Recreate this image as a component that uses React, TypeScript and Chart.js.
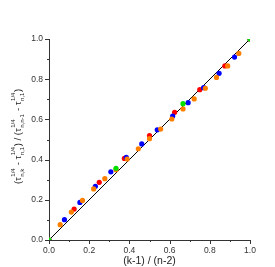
import React, { useEffect, useRef } from "react";
import { Chart, registerables } from "chart.js";

Chart.register(...registerables);

// n = 5
const greenX = [0, 0.3333, 0.6667, 1];
const greenY = [0, 0.357, 0.678, 1];
// n = 10
const redX = [0, 0.125, 0.25, 0.375, 0.5, 0.625, 0.75, 0.875, 1];
const redY = [0, 0.154, 0.287, 0.406, 0.52, 0.635, 0.748, 0.866, 1];
// n = 15
const blueX = [0, 0.0769, 0.1538, 0.2308, 0.3077, 0.3846, 0.4615, 0.5385, 0.6154, 0.6923, 0.7692, 0.8462, 0.9231, 1];
const blueY = [0, 0.101, 0.187, 0.267, 0.339, 0.411, 0.478, 0.548, 0.617, 0.683, 0.758, 0.829, 0.91, 1];
// n = 20
const orangeX = [0, 0.0556, 0.1111, 0.1667, 0.2222, 0.2778, 0.3333, 0.3889, 0.4444, 0.5, 0.5556, 0.6111, 0.6667, 0.7222, 0.7778, 0.8333, 0.8889, 0.9444, 1];
const orangeY = [0, 0.076, 0.139, 0.197, 0.254, 0.305, 0.35, 0.403, 0.454, 0.504, 0.552, 0.602, 0.652, 0.702, 0.755, 0.809, 0.866, 0.928, 1];
// reference diagonal
const lineX = [0, 1];
const lineY = [0, 1];

const xTitle = "(k-1) / (n-2)";
const tickValues = [0, 0.1, 0.2, 0.3, 0.4, 0.5, 0.6, 0.7, 0.8, 0.9, 1.0];

const toPts = (xs: number[], ys: number[]) => xs.map((x, i) => ({ x, y: ys[i] }));

const AXIS = "#333333";
const FONT = "'Liberation Sans', Arial, sans-serif";

const tickPlugin = {
  id: "customTicks",
  afterDraw(chart: any) {
    const ctx = chart.ctx;
    const xs = chart.scales.x;
    const ys = chart.scales.y;
    const area = chart.chartArea;
    ctx.save();
    ctx.strokeStyle = AXIS;
    ctx.lineWidth = 1;
    tickValues.forEach((v, i) => {
      const len = i % 2 === 0 ? 4 : 2;
      const px = Math.round(xs.getPixelForValue(v)) + 0.5;
      ctx.beginPath();
      ctx.moveTo(px, area.bottom);
      ctx.lineTo(px, area.bottom + len);
      ctx.stroke();
      const py = Math.round(ys.getPixelForValue(v)) + 0.5;
      ctx.beginPath();
      ctx.moveTo(area.left, py);
      ctx.lineTo(area.left - len, py);
      ctx.stroke();
    });
    ctx.restore();
  },
};

type Seg = { t: string; sup?: string; sub?: string };
const yTitleSegs: Seg[] = [
  { t: "(τ", sup: "1/4", sub: "n,k" },
  { t: " - τ", sup: "1/4", sub: "n,1" },
  { t: ") / (τ", sup: "1/4", sub: "n,n-1" },
  { t: " - τ", sup: "1/4", sub: "n,1" },
  { t: ")" },
];

const yTitlePlugin = {
  id: "yTitle",
  afterDraw(chart: any) {
    const ctx = chart.ctx;
    const main = `9.5px ${FONT}`;
    const small = `6px ${FONT}`;
    ctx.save();
    ctx.fillStyle = "#222";
    ctx.textBaseline = "alphabetic";
    ctx.textAlign = "left";
    let total = 0;
    const widths = yTitleSegs.map((s) => {
      ctx.font = main;
      const w1 = ctx.measureText(s.t).width;
      ctx.font = small;
      const w2 = Math.max(s.sup ? ctx.measureText(s.sup).width : 0, s.sub ? ctx.measureText(s.sub).width : 0);
      const extra = s.sup ? 1 : 0;
      total += w1 + w2 + extra;
      return [w1, w2 + extra];
    });
    const cy = 136.5;
    ctx.translate(21, cy);
    ctx.rotate(-Math.PI / 2);
    let x = -total / 2;
    yTitleSegs.forEach((s, i) => {
      ctx.font = main;
      ctx.fillText(s.t, x, 0);
      x += widths[i][0];
      ctx.font = small;
      if (s.sup) ctx.fillText(s.sup, x + 0.5, -6);
      if (s.sub) ctx.fillText(s.sub, x + 0.5, 2.5);
      x += widths[i][1];
    });
    ctx.restore();
  },
};

export default function App() {
  const ref = useRef<HTMLCanvasElement>(null);
  useEffect(() => {
    if (!ref.current) return;
    const pt = { pointRadius: 2.6, pointBorderWidth: 0, showLine: false };
    const chart = new Chart(ref.current, {
      type: "scatter",
      data: {
        datasets: [
          { data: toPts(greenX, greenY), backgroundColor: "#00E000", borderColor: "#00E000", ...pt },
          { data: toPts(orangeX, orangeY), backgroundColor: "#FF8000", borderColor: "#FF8000", ...pt },
          { data: toPts(blueX, blueY), backgroundColor: "#0000FF", borderColor: "#0000FF", ...pt },
          { data: toPts(redX, redY), backgroundColor: "#FF0000", borderColor: "#FF0000", ...pt },
          {
            data: toPts(lineX, lineY),
            showLine: true,
            borderColor: "#000",
            borderWidth: 1,
            pointRadius: 0,
          },
        ],
      },
      options: {
        responsive: false,
        animation: false,
        layout: { padding: { left: 0, top: 39, right: 25, bottom: 0 } },
        plugins: { legend: { display: false }, tooltip: { enabled: false } },
        scales: {
          x: {
            type: "linear",
            min: 0,
            max: 1,
            grid: { display: false, drawTicks: false, tickLength: 0 },
            border: { display: true, color: AXIS, width: 1 },
            ticks: {
              stepSize: 0.2,
              padding: 6,
              color: "#333",
              font: { size: 8.5, family: FONT },
              callback: (v: any) => Number(v).toFixed(1),
              maxRotation: 0,
            },
            title: {
              display: true,
              text: xTitle,
              color: "#222",
              font: { size: 10.5, family: FONT },
              padding: { top: 0, bottom: 0 },
            },
            afterFit: (s: any) => {
              s.height = 27;
            },
          },
          y: {
            type: "linear",
            min: 0,
            max: 1,
            grid: { display: false, drawTicks: false, tickLength: 0 },
            border: { display: true, color: AXIS, width: 1 },
            ticks: {
              stepSize: 0.2,
              padding: 6,
              color: "#333",
              font: { size: 8.5, family: FONT },
              callback: (v: any) => Number(v).toFixed(1),
            },
            afterFit: (s: any) => {
              s.width = 49;
            },
          },
        },
      },
      plugins: [tickPlugin, yTitlePlugin],
    });
    return () => chart.destroy();
  }, []);
  return (
    <div style={{ position: "absolute", left: 0, top: 0, width: 275, height: 267, background: "#fff" }}>
      <canvas ref={ref} width={275} height={267} />
    </div>
  );
}
